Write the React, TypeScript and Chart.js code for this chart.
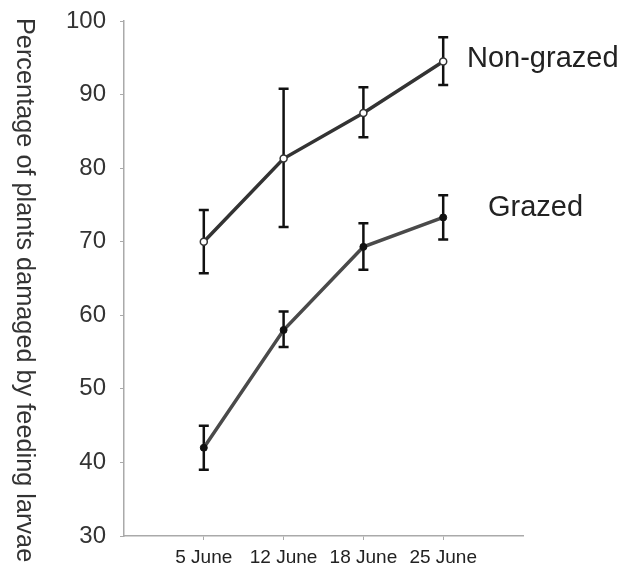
import React, { useEffect, useRef } from "react";
import { Chart, registerables } from "chart.js";

Chart.register(...registerables);

const categories = ["5 June", "12 June", "18 June", "25 June"];
const nonGrazed = [70, 81.3, 87.5, 94.5];
const nonGrazedLow = [65.7, 72, 84.2, 91.3];
const nonGrazedHigh = [74.3, 90.8, 91, 97.8];
const grazed = [42, 58, 69.3, 73.3];
const grazedLow = [39, 55.7, 66.2, 70.3];
const grazedHigh = [45, 60.5, 72.5, 76.3];
const yTicks = [30, 40, 50, 60, 70, 80, 90, 100];
const seriesNames = ["Non-grazed", "Grazed"];
const yTitle = "Percentage of plants damaged by feeding larvae";

const FONT = "'Liberation Sans', Arial, sans-serif";

const errorBarPlugin = {
  id: "errorBars",
  beforeDatasetsDraw(chart: any) {
    const ctx = chart.ctx;
    const xs = chart.scales.x;
    const ys = chart.scales.y;
    const sets = [
      [nonGrazedLow, nonGrazedHigh],
      [grazedLow, grazedHigh],
    ];
    ctx.save();
    ctx.strokeStyle = "#111";
    ctx.lineWidth = 2.5;
    sets.forEach(([lo, hi]) => {
      lo.forEach((l, i) => {
        const x = xs.getPixelForValue(i);
        const y1 = ys.getPixelForValue(l);
        const y2 = ys.getPixelForValue(hi[i]);
        ctx.beginPath();
        ctx.moveTo(x, y1);
        ctx.lineTo(x, y2);
        ctx.moveTo(x - 5, y1);
        ctx.lineTo(x + 5, y1);
        ctx.moveTo(x - 5, y2);
        ctx.lineTo(x + 5, y2);
        ctx.stroke();
      });
    });
    ctx.restore();
  },
  afterDraw(chart: any) {
    const ctx = chart.ctx;
    const ys = chart.scales.y;
    ctx.save();
    ctx.fillStyle = "#222";
    ctx.font = `29px ${FONT}`;
    ctx.textAlign = "left";
    ctx.textBaseline = "alphabetic";
    ctx.fillText(seriesNames[0], 467, ys.getPixelForValue(100) + 46);
    ctx.fillText(seriesNames[1], 488, ys.getPixelForValue(100) + 195);
    // rotated y title (reads top to bottom)
    ctx.font = `25.3px ${FONT}`;
    ctx.fillStyle = "#333";
    ctx.translate(17, 18);
    ctx.rotate(Math.PI / 2);
    ctx.textBaseline = "alphabetic";
    ctx.fillText(yTitle, 0, 0);
    ctx.restore();
  },
};

export default function App() {
  const ref = useRef<HTMLCanvasElement | null>(null);

  useEffect(() => {
    if (!ref.current) return;
    const chart = new Chart(ref.current, {
      type: "line",
      data: {
        datasets: [
          {
            label: seriesNames[0],
            data: nonGrazed.map((v, i) => ({ x: i, y: v })),
            borderColor: "#333",
            borderWidth: 3.5,
            pointRadius: 3.5,
            pointBackgroundColor: "#fff",
            pointBorderColor: "#333",
            pointBorderWidth: 1.5,
            tension: 0,
          },
          {
            label: seriesNames[1],
            data: grazed.map((v, i) => ({ x: i, y: v })),
            borderColor: "#4a4a4a",
            borderWidth: 3.5,
            pointRadius: 3.5,
            pointBackgroundColor: "#111",
            pointBorderColor: "#111",
            pointBorderWidth: 1,
            tension: 0,
          },
        ],
      },
      options: {
        animation: false,
        responsive: false,
        layout: { padding: { top: 21, right: 98, left: 0, bottom: 0 } },
        plugins: {
          legend: { display: false },
          tooltip: { enabled: false },
        },
        scales: {
          x: {
            type: "linear",
            min: -1,
            max: 4,
            afterBuildTicks: (scale: any) => {
              scale.ticks = categories.map((_, i) => ({ value: i }));
            },
            afterFit: (scale: any) => {
              scale.height = 33;
              scale.paddingLeft = 0;
              scale.paddingRight = 0;
            },
            ticks: {
              callback: (v: any) => categories[v] ?? "",
              color: "#222",
              font: { family: FONT, size: 19 },
              padding: 6,
              maxRotation: 0,
              autoSkip: false,
            },
            grid: {
              drawOnChartArea: false,
              drawTicks: true,
              tickLength: 4,
              color: "#aaa",
            },
            border: { display: true, color: "#aaa", width: 1.5 },
          },
          y: {
            type: "linear",
            min: 30,
            max: 100,
            afterBuildTicks: (scale: any) => {
              scale.ticks = yTicks.map((v) => ({ value: v }));
            },
            afterFit: (scale: any) => {
              scale.width = 124;
              scale.paddingTop = 0;
              scale.paddingBottom = 0;
            },
            ticks: {
              color: "#333",
              font: { family: FONT, size: 24 },
              padding: 14,
            },
            grid: {
              drawOnChartArea: false,
              drawTicks: true,
              tickLength: 4,
              color: "#aaa",
            },
            border: { display: true, color: "#aaa", width: 1.5 },
          },
        },
      },
      plugins: [errorBarPlugin],
    } as any);
    return () => chart.destroy();
  }, []);

  return (
    <div style={{ position: "absolute", left: 0, top: 0, width: 621, height: 569, background: "#fff" }}>
      <canvas ref={ref} width={621} height={569} />
    </div>
  );
}
